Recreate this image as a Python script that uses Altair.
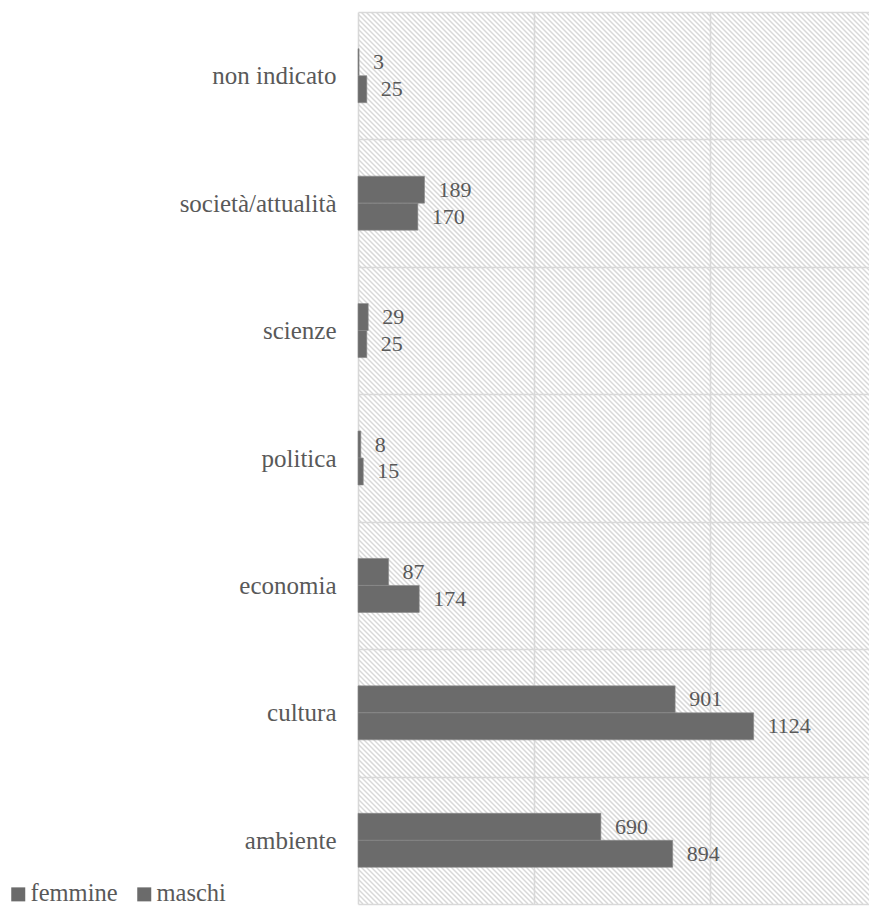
import altair as alt
import pandas as pd

# ---- data ----
categories = ["non indicato", "società/attualità", "scienze", "politica",
              "economia", "cultura", "ambiente"]
series = ["femmine", "maschi"]
femmine = [3, 189, 29, 8, 87, 901, 690]
maschi = [25, 170, 25, 15, 174, 1124, 894]

rows = []
for c, f, m in zip(categories, femmine, maschi):
    rows.append({"categoria": c, "genere": series[0], "valore": f})
    rows.append({"categoria": c, "genere": series[1], "valore": m})
df = pd.DataFrame(rows)

# ---- layout / style ----
W, H = 511, 892
XMAX = W / 0.352
FONT = "Liberation Serif"
TXT = "#595959"
BAR = "#6b6b6b"
GRID = "#d9d9d9"
HATCH_STEP = 5  # px between diagonal hatch lines (background texture)

y_axis = alt.Axis(
    title=None, domain=False, ticks=False, labelPadding=22,
    labelFont=FONT, labelFontSize=25, labelColor=TXT,
    grid=True, gridColor=GRID, gridWidth=1.6, tickBand="extent",
)
x_axis = alt.Axis(
    title=None, labels=False, ticks=False, domain=False,
    values=[0, 500, 1000], grid=True, gridColor=GRID, gridWidth=1.6,
)
y_enc = alt.Y("categoria:N", sort=categories,
              scale=alt.Scale(paddingInner=0, paddingOuter=0), axis=y_axis)
yoff = alt.YOffset(
    "genere:N",
    scale=alt.Scale(domain=["_a", "femmine", "maschi", "_b"],
                    paddingInner=0, paddingOuter=0.36),
)
x_enc = alt.X("valore:Q", scale=alt.Scale(domain=[0, XMAX], nice=False),
              axis=x_axis)

# background diagonal hatch (pure decoration, in pixel space)
n_lines = (W + H) // HATCH_STEP + 2
hatch = (
    alt.Chart(alt.sequence(0, n_lines, as_="k"))
    .transform_calculate(
        hx0=f"datum.k * {HATCH_STEP} - {H}",
        hx1=f"datum.k * {HATCH_STEP}",
        hy0="0",
        hy1=f"{H}",
    )
    .mark_rule(color="#d8d8d8", strokeWidth=1.5, clip=True)
    .encode(
        x=alt.X("hx0:Q", scale=None),
        x2="hx1:Q",
        y=alt.Y("hy0:Q", scale=None),
        y2="hy1:Q",
    )
)

bars = alt.Chart(df).mark_bar(stroke="#8a8a8a", strokeWidth=0.6).encode(
    y=y_enc,
    yOffset=yoff,
    x=x_enc,
    color=alt.Color(
        "genere:N",
        scale=alt.Scale(domain=series, range=[BAR, BAR]),
        legend=alt.Legend(
            title=None, orient="none", direction="horizontal",
            legendX=-352, legendY=870,
            symbolType="square", symbolSize=196, symbolStrokeWidth=0,
            labelFont=FONT, labelFontSize=24.5, labelColor=TXT,
            labelOffset=0, columnPadding=14,
        ),
    ),
)

labels = alt.Chart(df).mark_text(
    align="left", baseline="middle", dx=14,
    font=FONT, fontSize=22, color=TXT,
).encode(
    y=y_enc,
    yOffset=yoff,
    x=x_enc,
    text=alt.Text("valore:Q"),
)

chart = (
    alt.layer(hatch, bars, labels)
    .properties(
        width=W, height=H,
        autosize=alt.AutoSizeParams(type="none"),
        padding={"left": 350, "top": 4, "right": 0, "bottom": 2},
    )
    .configure(font=FONT)
    .configure_axis(labelFont=FONT)
    .configure_legend(labelFont=FONT)
    .configure_view(strokeOpacity=0)
)

chart.save("out.html", embed_options={"renderer": "svg", "actions": False})
